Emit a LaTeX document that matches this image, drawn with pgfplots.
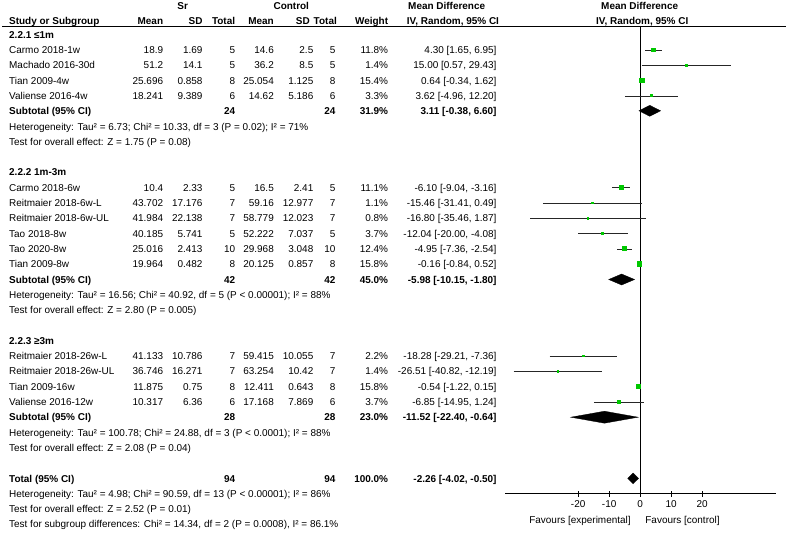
\documentclass[border=0pt]{standalone}
\usepackage{fontspec}
\setmainfont{Liberation Sans}
\usepackage{pgfplots}
\pgfplotsset{compat=1.18}
\usepackage{pgfplotstable}
\definecolor{sqgreen}{RGB}{0,200,0}

\pgfplotstableread{
md     y       ms
4.30   -50.0   2.0
15.00  -65.3   0.9
0.64   -80.6   2.25
3.62   -95.9   1.05
-6.10  -187.7  1.9
-15.46 -203.0  0.9
-16.80 -218.3  0.9
-12.04 -233.6  1.1
-4.95  -248.9  2.0
-0.16  -264.2  2.3
-18.28 -356.0  0.9
-26.51 -371.3  0.9
-0.54  -386.6  2.3
-6.85  -401.9  1.1
}\studies

\pgfplotstableread{
x      y
1.65   -50.0
6.95   -50.0
nan    nan
0.57   -65.3
29.43  -65.3
nan    nan
-0.34  -80.6
1.62   -80.6
nan    nan
-4.96  -95.9
12.20  -95.9
nan    nan
-9.04  -187.7
-3.16  -187.7
nan    nan
-31.41 -203.0
0.49   -203.0
nan    nan
-35.46 -218.3
1.87   -218.3
nan    nan
-20.00 -233.6
-4.08  -233.6
nan    nan
-7.36  -248.9
-2.54  -248.9
nan    nan
-0.84  -264.2
0.52   -264.2
nan    nan
-29.21 -356.0
-7.36  -356.0
nan    nan
-40.82 -371.3
-12.19 -371.3
nan    nan
-1.22  -386.6
0.15   -386.6
nan    nan
-14.95 -401.9
1.24   -401.9
}\cis

\newcommand{\fs}{\fontsize{10}{12}\selectfont}
\newcommand{\by}[1]{{-(38.3+15.3*#1)}}
\newcommand{\nm}[2]{\node[anchor=base west] at (9,\by{#1}) {#2};}
\newcommand{\vals}[8]{%
 \node[anchor=base east] at (163.3,\by{#1}) {#2};
 \node[anchor=base east] at (202.7,\by{#1}) {#3};
 \node[anchor=base east] at (235.3,\by{#1}) {#4};
 \node[anchor=base east] at (274,\by{#1}) {#5};
 \node[anchor=base east] at (313.5,\by{#1}) {#6};
 \node[anchor=base east] at (335.6,\by{#1}) {#7};
 \node[anchor=base east] at (388.3,\by{#1}) {#8};}
\newcommand{\ci}[2]{\node[anchor=base east] at (496.7,\by{#1}) {#2};}

\begin{document}
\begin{tikzpicture}[x=1bp,y=1bp,every node/.style={font=\fs, inner sep=0pt}]
\begin{axis}[
  scale only axis, width=270.6bp, height=467.7bp,
  at={(505bp,-493.7bp)}, anchor=south west,
  xmin=-43.6, xmax=43.7, ymin=-493.7, ymax=-26,
  axis x line*=bottom, axis y line=none,
  xtick={-20,-10,0,10,20}, xticklabels={-20,-10,0,10,20},
  tick align=center, major tick length=6bp,
  x tick label style={font=\fs, inner sep=0pt, yshift=-4bp},
  tick style={black, line width=0.7bp},
  axis line style={black, line width=0.7bp},
  clip=false, unbounded coords=jump,
]
\addplot[black, line width=0.7bp] coordinates {(0,-26) (0,-493.7)};
\addplot[black!85, line width=0.7bp, mark=none] table[x=x,y=y] {\cis};
\addplot[only marks, mark=square*, scatter, line width=0pt,
  scatter/use mapped color={draw=sqgreen, fill=sqgreen},
  visualization depends on={\thisrow{ms} \as \msize},
  scatter/@pre marker code/.append style={/tikz/mark size=\msize}]
  table[x=md, y=y] {\studies};
% diamonds
\addplot[fill=black, draw=black, line width=0.3bp] coordinates {(-0.38,-110.8) (3.11,-105.3) (6.60,-110.8) (3.11,-116.3)} --cycle;
\addplot[fill=black, draw=black, line width=0.3bp] coordinates {(-10.15,-279.5) (-5.98,-274.0) (-1.80,-279.5) (-5.98,-285.0)} --cycle;
\addplot[fill=black, draw=black, line width=0.3bp] coordinates {(-22.40,-417.2) (-11.52,-411.2) (-0.64,-417.2) (-11.52,-423.2)} --cycle;
\addplot[fill=black, draw=black, line width=0.3bp] coordinates {(-4.02,-478.4) (-2.26,-473.0) (-0.50,-478.4) (-2.26,-483.8)} --cycle;
\end{axis}

% header
\draw[line width=0.8bp] (2,-26) -- (786,-26);
\begin{scope}[every node/.style={font=\fs\bfseries, inner sep=0pt}]
\node[anchor=base] at (182.7,-9.8) {Sr};
\node[anchor=base] at (291.3,-9.8) {Control};
\node[anchor=base west] at (408,-9.8) {Mean Difference};
\node[anchor=base west] at (601,-9.8) {Mean Difference};
\node[anchor=base west] at (9,-24.6) {Study or Subgroup};
\node[anchor=base east] at (163.3,-24.6) {Mean};
\node[anchor=base east] at (202.7,-24.6) {SD};
\node[anchor=base east] at (235.3,-24.6) {Total};
\node[anchor=base east] at (274,-24.6) {Mean};
\node[anchor=base east] at (310,-24.6) {SD};
\node[anchor=base east] at (337,-24.6) {Total};
\node[anchor=base east] at (388.3,-24.6) {Weight};
\node[anchor=base west] at (406.7,-24.6) {IV, Random, 95\% CI};
\node[anchor=base west] at (596,-24.6) {IV, Random, 95\% CI};
\end{scope}

% group 1
\nm{0}{\textbf{2.2.1 ≤1m}}
\nm{1}{Carmo 2018-1w}\vals{1}{18.9}{1.69}{5}{14.6}{2.5}{5}{11.8\%}\ci{1}{4.30 [1.65, 6.95]}
\nm{2}{Machado 2016-30d}\vals{2}{51.2}{14.1}{5}{36.2}{8.5}{5}{1.4\%}\ci{2}{15.00 [0.57, 29.43]}
\nm{3}{Tian 2009-4w}\vals{3}{25.696}{0.858}{8}{25.054}{1.125}{8}{15.4\%}\ci{3}{0.64 [-0.34, 1.62]}
\nm{4}{Valiense 2016-4w}\vals{4}{18.241}{9.389}{6}{14.62}{5.186}{6}{3.3\%}\ci{4}{3.62 [-4.96, 12.20]}
\nm{5}{\textbf{Subtotal (95\% CI)}}\vals{5}{}{}{\textbf{24}}{}{}{\textbf{24}}{\textbf{31.9\%}}\ci{5}{\textbf{3.11 [-0.38, 6.60]}}
\nm{6}{Heterogeneity: Tau² = 6.73; Chi² = 10.33, df = 3 (P = 0.02); I² = 71\%}
\nm{7}{Test for overall effect: Z = 1.75 (P = 0.08)}
% group 2
\nm{9}{\textbf{2.2.2 1m-3m}}
\nm{10}{Carmo 2018-6w}\vals{10}{10.4}{2.33}{5}{16.5}{2.41}{5}{11.1\%}\ci{10}{-6.10 [-9.04, -3.16]}
\nm{11}{Reitmaier 2018-6w-L}\vals{11}{43.702}{17.176}{7}{59.16}{12.977}{7}{1.1\%}\ci{11}{-15.46 [-31.41, 0.49]}
\nm{12}{Reitmaier 2018-6w-UL}\vals{12}{41.984}{22.138}{7}{58.779}{12.023}{7}{0.8\%}\ci{12}{-16.80 [-35.46, 1.87]}
\nm{13}{Tao 2018-8w}\vals{13}{40.185}{5.741}{5}{52.222}{7.037}{5}{3.7\%}\ci{13}{-12.04 [-20.00, -4.08]}
\nm{14}{Tao 2020-8w}\vals{14}{25.016}{2.413}{10}{29.968}{3.048}{10}{12.4\%}\ci{14}{-4.95 [-7.36, -2.54]}
\nm{15}{Tian 2009-8w}\vals{15}{19.964}{0.482}{8}{20.125}{0.857}{8}{15.8\%}\ci{15}{-0.16 [-0.84, 0.52]}
\nm{16}{\textbf{Subtotal (95\% CI)}}\vals{16}{}{}{\textbf{42}}{}{}{\textbf{42}}{\textbf{45.0\%}}\ci{16}{\textbf{-5.98 [-10.15, -1.80]}}
\nm{17}{Heterogeneity: Tau² = 16.56; Chi² = 40.92, df = 5 (P < 0.00001); I² = 88\%}
\nm{18}{Test for overall effect: Z = 2.80 (P = 0.005)}
% group 3
\nm{20}{\textbf{2.2.3 ≥3m}}
\nm{21}{Reitmaier 2018-26w-L}\vals{21}{41.133}{10.786}{7}{59.415}{10.055}{7}{2.2\%}\ci{21}{-18.28 [-29.21, -7.36]}
\nm{22}{Reitmaier 2018-26w-UL}\vals{22}{36.746}{16.271}{7}{63.254}{10.42}{7}{1.4\%}\ci{22}{-26.51 [-40.82, -12.19]}
\nm{23}{Tian 2009-16w}\vals{23}{11.875}{0.75}{8}{12.411}{0.643}{8}{15.8\%}\ci{23}{-0.54 [-1.22, 0.15]}
\nm{24}{Valiense 2016-12w}\vals{24}{10.317}{6.36}{6}{17.168}{7.869}{6}{3.7\%}\ci{24}{-6.85 [-14.95, 1.24]}
\nm{25}{\textbf{Subtotal (95\% CI)}}\vals{25}{}{}{\textbf{28}}{}{}{\textbf{28}}{\textbf{23.0\%}}\ci{25}{\textbf{-11.52 [-22.40, -0.64]}}
\nm{26}{Heterogeneity: Tau² = 100.78; Chi² = 24.88, df = 3 (P < 0.0001); I² = 88\%}
\nm{27}{Test for overall effect: Z = 2.08 (P = 0.04)}
% total
\nm{29}{\textbf{Total (95\% CI)}}\vals{29}{}{}{\textbf{94}}{}{}{\textbf{94}}{\textbf{100.0\%}}\ci{29}{\textbf{-2.26 [-4.02, -0.50]}}
\nm{30}{Heterogeneity: Tau² = 4.98; Chi² = 90.59, df = 13 (P < 0.00001); I² = 86\%}
\nm{31}{Test for overall effect: Z = 2.52 (P = 0.01)}
\nm{32}{Test for subgroup differences: Chi² = 14.34, df = 2 (P = 0.0008), I² = 86.1\%}

\node[anchor=base] at (580,-523.6) {Favours [experimental]};
\node[anchor=base] at (682.5,-523.6) {Favours [control]};

\pgfresetboundingbox
\useasboundingbox (0,0) rectangle (786,-536);
\end{tikzpicture}
\end{document}
